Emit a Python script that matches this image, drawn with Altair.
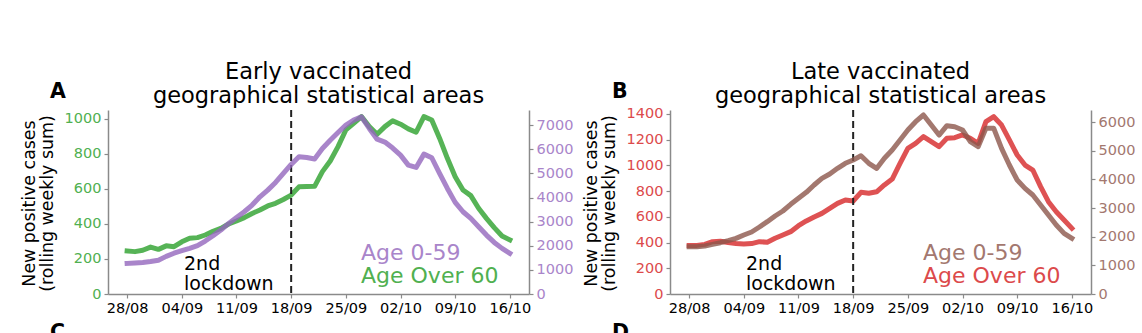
import altair as alt
import pandas as pd

FONT = "DejaVu Sans"

# daily dates, 28/08 .. 16/10 (2020)
dates = pd.date_range("2020-08-28", "2020-10-16", freq="D").strftime("%Y-%m-%d").tolist()
tick_dates = [(2020, 8, 28), (2020, 9, 4), (2020, 9, 11), (2020, 9, 18),
              (2020, 9, 25), (2020, 10, 2), (2020, 10, 9), (2020, 10, 16)]
lockdown_date = "2020-09-18"

# Panel A: early vaccinated areas
early_over60 = [246, 242, 250, 268, 255, 275, 270, 298, 318, 322,
                337, 358, 375, 400, 417, 436, 460, 480, 503, 518,
                540, 565, 612, 614, 615, 699, 760, 842, 937, 975,
                1013, 956, 912, 956, 989, 970, 943, 924, 1013, 994,
                890, 775, 670, 594, 562, 490, 432, 379, 331, 309]
early_0_59 = [1270, 1290, 1310, 1345, 1400, 1560, 1690, 1795, 1892, 2003,
              2196, 2416, 2651, 2927, 3175, 3410, 3687, 4031, 4308, 4625,
              5000, 5372, 5690, 5660, 5600, 6036, 6379, 6698, 7001, 7208,
              7345, 6864, 6421, 6300, 6050, 5758, 5344, 5250, 5800, 5650,
              5000, 4378, 3800, 3410, 3135, 2789, 2444, 2140, 1892, 1685]

# Panel B: late vaccinated areas
late_over60 = [378, 378, 386, 407, 410, 400, 392, 389, 392, 407,
               402, 433, 459, 485, 531, 568, 599, 627, 666, 705,
               731, 723, 791, 783, 795, 848, 894, 1016, 1133, 1172,
               1224, 1185, 1146, 1211, 1216, 1237, 1211, 1172, 1340, 1379,
               1314, 1198, 1081, 1003, 964, 835, 718, 640, 576, 511]
late_0_59 = [1651, 1651, 1674, 1733, 1790, 1861, 1942, 2058, 2163, 2337,
             2523, 2721, 2895, 3128, 3337, 3546, 3802, 4034, 4186, 4384,
             4559, 4674, 4825, 4559, 4380, 4733, 5023, 5372, 5721, 6011,
             6244, 5895, 5546, 5871, 5837, 5721, 5314, 5140, 5779, 5779,
             5082, 4500, 3977, 3686, 3453, 3105, 2756, 2407, 2116, 1942]

left_title = ["New positive cases", "(rolling weekly sum)"]
legend_young = "Age 0-59"
legend_old = "Age Over 60"
lockdown_text = ["2nd", "lockdown"]

x_domain = [alt.DateTime(year=2020, month=8, date=25, hours=13, minutes=12, utc=True),
            alt.DateTime(year=2020, month=10, date=18, hours=10, minutes=48, utc=True)]
x_values = [alt.DateTime(year=y, month=m, date=d, utc=True) for (y, m, d) in tick_dates]

AXIS_GRAY = "#8a8a8a"
W, H = 421, 184


def panel(title, letter, bottom_letter, left_vals, right_vals,
          left_line, right_line, left_txt, right_txt,
          left_max, right_max, left_ticks, right_ticks):
    df = pd.DataFrame({"date": dates, "old": left_vals, "young": right_vals})
    one = pd.DataFrame({"date": [lockdown_date]})

    x = alt.X("date:T",
              scale=alt.Scale(type="utc", domain=x_domain),
              axis=alt.Axis(values=x_values, labelExpr="utcFormat(datum.value, '%d/%m')",
                            labelColor="black", title=None, labelAngle=0,
                            labelFlush=False, labelOverlap=False))

    old_line = alt.Chart(df).mark_line(
        color=left_line, strokeWidth=5, opacity=0.8, strokeCap="square", strokeJoin="round"
    ).encode(
        x=x,
        y=alt.Y("old:Q",
                scale=alt.Scale(domain=[0, left_max], nice=False, zero=True),
                axis=alt.Axis(orient="left", values=left_ticks, labelColor=left_txt,
                              format="d",
                              title=left_title, titleColor="black",
                              titleX=-88, titleY=93, titleAngle=270,
                              titleAlign="center", titleBaseline="top",
                              titleLineHeight=18)),
    )

    young_line = alt.Chart(df).mark_line(
        color=right_line, strokeWidth=5, opacity=0.8, strokeCap="square", strokeJoin="round"
    ).encode(
        x=x,
        y=alt.Y("young:Q",
                scale=alt.Scale(domain=[0, right_max], nice=False, zero=True),
                axis=alt.Axis(orient="right", values=right_ticks, labelColor=right_txt,
                              format="d", title=None)),
    )

    rule = alt.Chart(one).mark_rule(
        color="#222222", strokeDash=[7, 4], strokeWidth=2
    ).encode(x=x)

    t = pd.DataFrame({"k": [0]})
    txt_lock = alt.Chart(t).mark_text(
        text=lockdown_text, font=FONT, fontSize=19, align="left", baseline="alphabetic",
        lineHeight=20, color="black"
    ).encode(x=alt.value(76), y=alt.value(160))
    txt_young = alt.Chart(t).mark_text(
        text=legend_young, font=FONT, fontSize=22, align="left", baseline="alphabetic",
        color=right_txt
    ).encode(x=alt.value(253), y=alt.value(150))
    txt_old = alt.Chart(t).mark_text(
        text=legend_old, font=FONT, fontSize=22, align="left", baseline="alphabetic",
        color=left_txt
    ).encode(x=alt.value(253), y=alt.value(173))
    txt_letter = alt.Chart(t).mark_text(
        text=letter, font=FONT, fontSize=20.5, fontWeight="bold", align="left",
        baseline="alphabetic", color="black"
    ).encode(x=alt.value(-58), y=alt.value(-12))
    txt_bottom = alt.Chart(t).mark_text(
        text=bottom_letter, font=FONT, fontSize=20.5, fontWeight="bold", align="left",
        baseline="alphabetic", color="black"
    ).encode(x=alt.value(-58), y=alt.value(229))

    return alt.layer(
        old_line, rule, young_line, txt_lock, txt_young, txt_old, txt_letter, txt_bottom
    ).resolve_scale(y="independent").properties(
        width=W, height=H,
        title=alt.TitleParams(text=title, font=FONT, fontSize=22.5, fontWeight="normal",
                              anchor="middle", frame="group", offset=-25, lineHeight=24,
                              color="black"),
    )


panel_a = panel(["Early vaccinated", "geographical statistical areas"], "A", "C",
                early_over60, early_0_59,
                "#2ca02c", "#9467bd", "#50b050", "#a985ca",
                1051, 7630,
                [0, 200, 400, 600, 800, 1000],
                [0, 1000, 2000, 3000, 4000, 5000, 6000, 7000])

panel_b = panel(["Late vaccinated", "geographical statistical areas"], "B", "D",
                late_over60, late_0_59,
                "#d62728", "#8c564b", "#dc4a4b", "#a3786f",
                1431, 6419,
                [0, 200, 400, 600, 800, 1000, 1200, 1400],
                [0, 1000, 2000, 3000, 4000, 5000, 6000])

chart = alt.hconcat(panel_a, panel_b, spacing=141, bounds="flush").properties(
    padding={"left": 20, "top": 60, "right": 0, "bottom": 0},
    background="white",
).configure_view(stroke=None).configure_axis(
    domainColor=AXIS_GRAY, domainWidth=1.5, tickColor=AXIS_GRAY, tickWidth=1.2,
    tickSize=4, labelFont=FONT, labelFontSize=14.5, titleFont=FONT, titleFontSize=17.4,
    titleFontWeight="normal", grid=False, labelPadding=3
)

chart.save("out.html", embed_options={"renderer": "svg", "actions": False})
